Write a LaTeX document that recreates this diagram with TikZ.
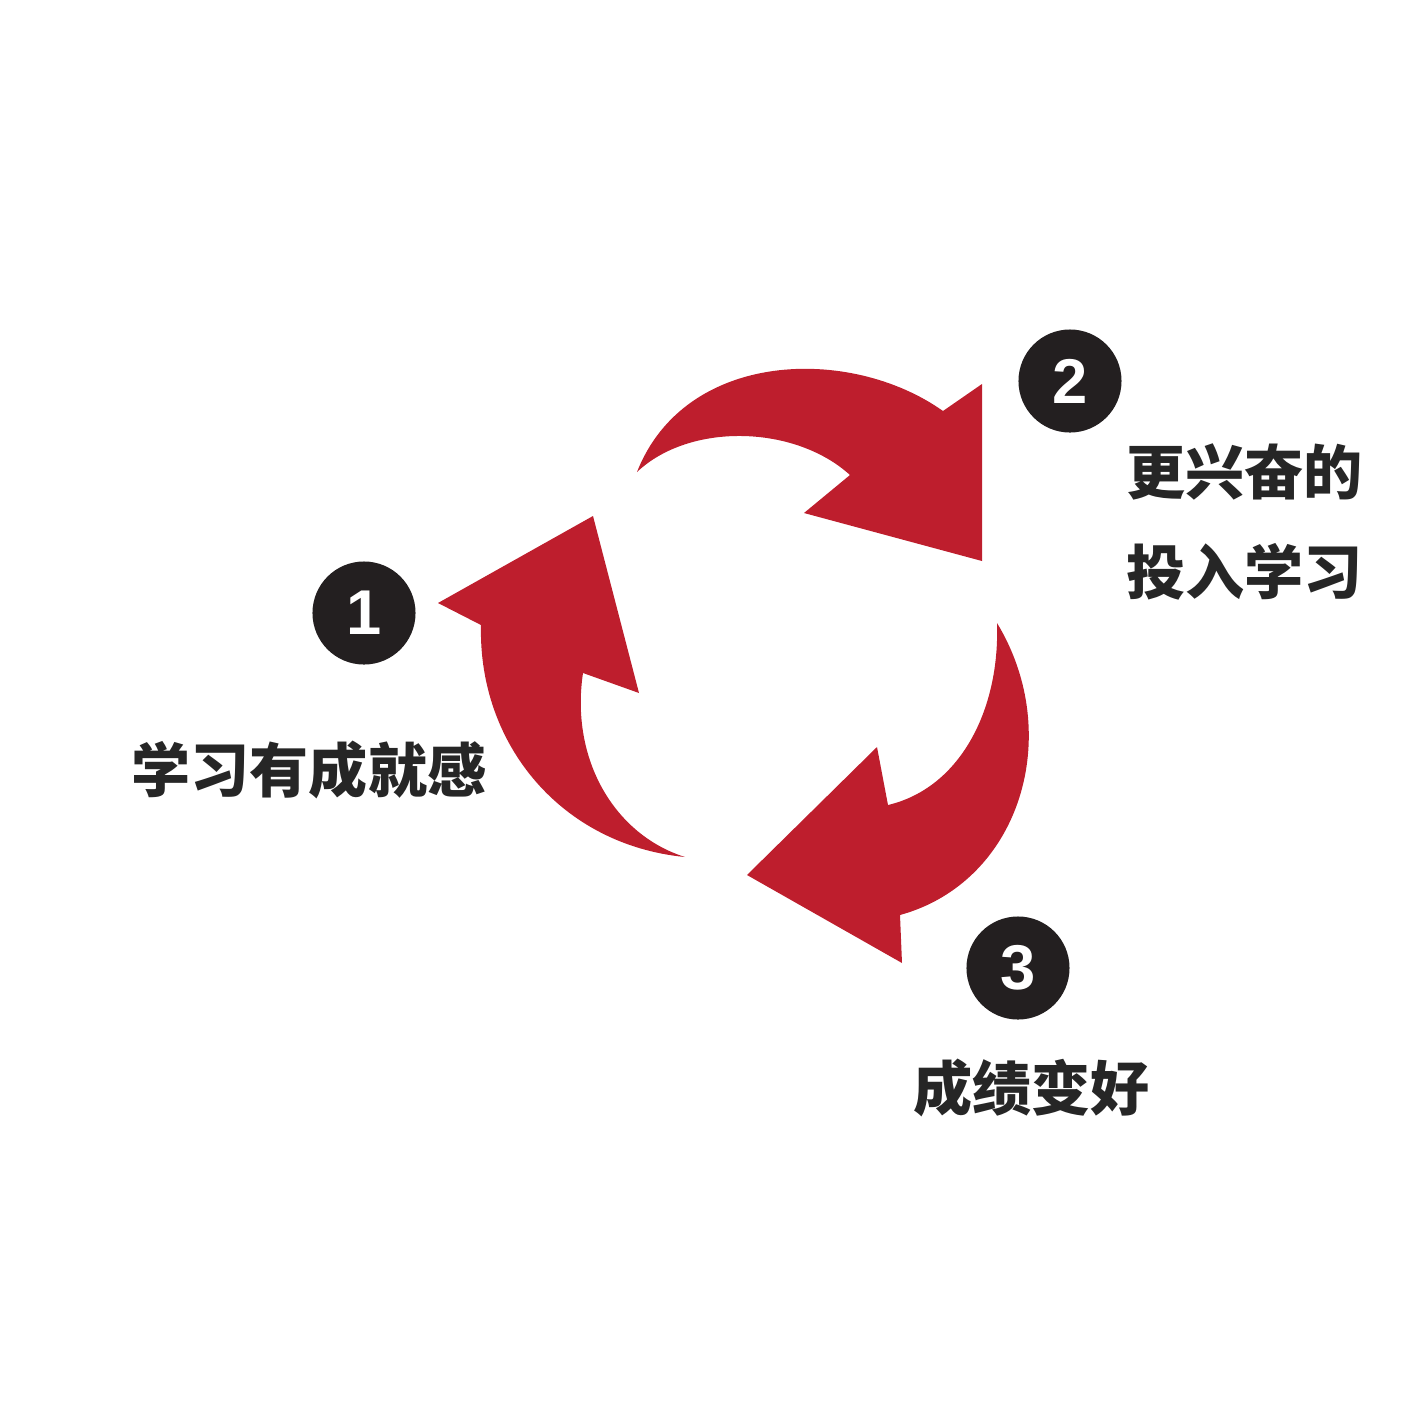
\documentclass[tikz,border=0pt]{standalone}
\usepackage{fontspec}
\newfontfamily\cjk{Noto Sans CJK SC}
\newfontfamily\numfont{Liberation Sans}
\definecolor{cyclered}{RGB}{190,30,45}
\definecolor{darkdot}{RGB}{35,31,32}
\definecolor{labelgray}{RGB}{38,38,38}

\begin{document}
\begin{tikzpicture}[x=0.01cm,y=-0.01cm,
  cyclearrow/.style={fill=cyclered},
  numdot/.style={circle,fill=darkdot,minimum size=1.03cm,inner sep=0pt,text=white,
    font=\numfont\fontsize{18}{18}\selectfont\bfseries},
  steptext/.style={text=labelgray,inner sep=0pt,anchor=west,align=left,
    font=\cjk\fontsize{16.8}{28.45}\selectfont\bfseries}]
  \useasboundingbox (0,0) rectangle (1417,1417);

  % left arrow, going up
  \fill[cyclearrow] (685,857) .. controls (562,845) and (478,745) .. (481,625)
    -- (438,603) -- (593,516) -- (639,693) -- (583,673)
    .. controls (570,760) and (615,835) .. cycle;
  % top arrow, going right
  \fill[cyclearrow] (637,472) .. controls (685,350) and (850,345) .. (943,411)
    -- (982,384) -- (982,561) -- (804,513) -- (850,475)
    .. controls (795,425) and (690,422) .. cycle;
  % right arrow, going down
  \fill[cyclearrow] (997,623) .. controls (1065,735) and (1020,882) .. (900,915)
    -- (902,963) -- (747,875) -- (877,747) -- (888,805)
    .. controls (960,788) and (1000,710) .. cycle;

  \node[numdot] (n1) at (364,613) {1};
  \node[numdot] (n2) at (1070,381) {2};
  \node[numdot] (n3) at (1018,968) {3};

  \node[steptext] (t1) at (131,770) {学习有成就感};
  \node[steptext] (t2) at (1126,522) {更兴奋的\\投入学习};
  \node[steptext] (t3) at (913,1088) {成绩变好};
\end{tikzpicture}
\end{document}
